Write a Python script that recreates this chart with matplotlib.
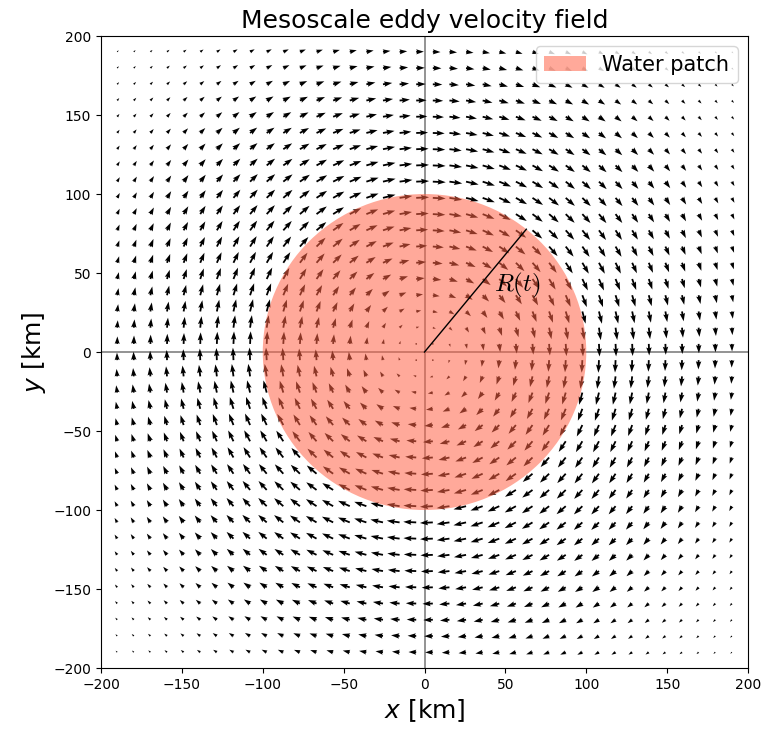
import numpy as np
import matplotlib
matplotlib.use("Agg")
import matplotlib.pyplot as plt
from matplotlib.patches import Circle

# Sampling grid for the velocity arrows [km]
grid_x = np.linspace(-190, 190, 38)
grid_y = np.linspace(-190, 190, 38)

# Gaussian eddy parameters
eddy_length = 150.0      # e-folding length of the eddy [km]
patch_radius = 100.0     # current radius R(t) of the water patch [km]
radius_angle_deg = 51.0  # direction of the radius marker

X, Y = np.meshgrid(grid_x, grid_y)
# Clockwise rotating eddy: stream function psi = exp(-r^2 / L^2)
envelope = np.exp(-(X**2 + Y**2) / eddy_length**2)
U = Y * envelope
V = -X * envelope
peak = (eddy_length / np.sqrt(2)) * np.exp(-0.5)
U = U / peak
V = V / peak

fig = plt.figure(figsize=(7.64, 7.34), dpi=100)
ax = fig.add_axes([0.1322, 0.0899, 0.8469, 0.8610])

ax.quiver(X, Y, U, V, angles="xy", scale_units="xy", scale=1 / 8.0,
          width=0.0028, headwidth=3, headlength=4.5, headaxislength=4,
          color="black", zorder=2)

ax.axhline(0, color="gray", lw=1.2, zorder=1)
ax.axvline(0, color="gray", lw=1.2, zorder=1)

patch = Circle((0, 0), patch_radius, facecolor="tomato", edgecolor="none",
               alpha=0.55, zorder=3, label="Water patch")
ax.add_patch(patch)

theta = np.deg2rad(radius_angle_deg)
ax.plot([0, patch_radius * np.cos(theta)], [0, patch_radius * np.sin(theta)],
        color="black", lw=1, zorder=4)
ax.text(43, 42, r"$R(t)$", fontsize=18, math_fontfamily="cm",
        ha="left", va="center", zorder=5)

ax.set_xlim(-200, 200)
ax.set_ylim(-200, 200)
ax.set_xticks(np.arange(-200, 201, 50))
ax.set_yticks(np.arange(-200, 201, 50))
ax.tick_params(labelsize=10)

ax.set_title("Mesoscale eddy velocity field", fontsize=18)
ax.set_xlabel(r"$x$ [km]", fontsize=18)
ax.set_ylabel(r"$y$ [km]", fontsize=18)
ax.legend(loc="upper right", fontsize=15)

fig.savefig("out.png", dpi=100)
